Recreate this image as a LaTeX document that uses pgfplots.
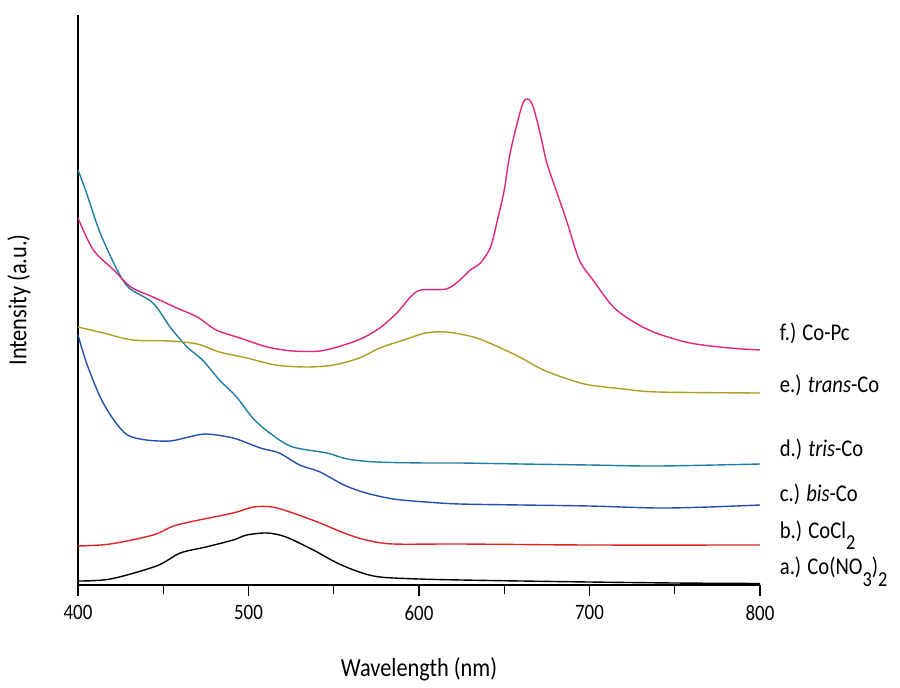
\documentclass[border=0pt]{standalone}
\usepackage{pgfplots}
\pgfplotsset{compat=1.18}
\usepackage{fontspec}
\setmainfont{Carlito}[FakeStretch=0.86]

\definecolor{cpink}{HTML}{E0267E}
\definecolor{colive}{HTML}{B09E22}
\definecolor{cteal}{HTML}{1C7FA4}
\definecolor{cblue}{HTML}{2250B0}
\definecolor{cred}{HTML}{E02424}

% lowered, nearly full-size index digits
\newcommand{\sub}[1]{\raisebox{-1.0ex}{\fontsize{16}{18}\selectfont#1}}

\begin{document}
\begin{tikzpicture}
\useasboundingbox (-58.5pt,-76.5pt) rectangle (616.5pt,438.75pt);
\begin{axis}[
  scale only axis,
  width=511.5pt, height=427.5pt,
  xmin=400, xmax=800, ymin=0, ymax=570,
  axis lines*=left,
  axis line style={line width=1.4pt},
  xtick={400,500,600,700,800},
  minor xtick={450,550,650,750},
  ytick=\empty,
  tick align=outside,
  major tick length=8pt, minor tick length=7pt,
  every tick/.style={line width=1pt, black},
  tick label style={font=\fontsize{16.5}{18}\selectfont},
  /pgf/number format/assume math mode=true,
  xticklabel style={yshift=-4pt},
  xlabel={Wavelength (nm)},
  ylabel={Intensity (a.u.)},
  label style={font=\fontsize{19.5}{22}\selectfont},
  xlabel style={at={(axis description cs:0.5,0)}, anchor=north, yshift=-51pt},
  ylabel style={at={(axis description cs:0,0.5)}, anchor=south, yshift=32pt},
  clip=false,
  every axis plot/.append style={line width=1.05pt, smooth, tension=0.5},
]
% a.) Co(NO3)2
\addplot[black] coordinates {
(400,4) (419,6) (446,19) (460,32) (475,38) (491,45) (499,50) (511,52) (522,48)
(538,35) (552,22) (565,13) (577,8) (600,6) (625,5) (660,4) (700,3) (750,2) (800,1.5)};
% b.) CoCl2
\addplot[cred] coordinates {
(400,39) (419,41) (444,50) (456,59) (471,65) (491,72) (503,78) (514,78) (526,72)
(542,62) (556,52) (569,45) (585,41) (624,41) (700,40) (800,40)};
% c.) bis-Co
\addplot[cblue] coordinates {
(400,250) (405,222) (413,188) (421,165) (429,150) (440,145) (454,144) (465,148)
(475,151) (491,147) (507,137) (518,132) (530,120) (542,113) (556,100) (569,92)
(585,86) (604,83) (624,81) (660,80) (700,79) (740,77) (770,78) (800,80)};
% d.) tris-Co
\addplot[cteal] coordinates {
(400,415) (405,392) (413,352) (423,315) (430,297) (444,282) (454,258) (464,238)
(473,225) (483,205) (493,188) (503,166) (514,150) (526,138) (546,132) (558,126)
(575,123) (604,122) (624,122) (660,121) (700,120) (740,119) (800,121)};
% e.) trans-Co
\addplot[colive] coordinates {
(400,258) (415,252) (432,245) (454,244) (470,241) (483,233) (499,227) (516,220)
(534,218) (550,220) (565,227) (577,237) (591,245) (604,252) (616,253) (632,248)
(644,240) (659,228) (673,215) (689,205) (700,200) (720,196) (740,193) (800,192)};
% f.) Co-Pc
\addplot[cpink] coordinates {
(400,367) (409,335) (421,315) (431,298) (444,288) (458,277) (470,268) (481,255)
(495,247) (511,238) (526,234) (542,234) (556,240) (567,247) (577,257) (587,272)
(595,288) (601,295) (616,296) (624,305) (630,315) (636,322) (642,338) (646,365)
(650,395) (653,428) (657,458) (661,482) (664,486) (667,478) (671,452) (675,422)
(681,392) (687,362) (694,325) (702,305) (714,278) (726,263) (739,252) (759,242)
(782,237) (800,235)};

\begin{scope}[every node/.style={anchor=west, font=\fontsize{18}{20}\selectfont, inner sep=0pt}]
\node at (axis cs:811.5,252) {f.) Co-Pc};
\node at (axis cs:811.5,200) {e.) \textit{trans}-Co};
\node at (axis cs:811.5,136) {d.) \textit{tris}-Co};
\node at (axis cs:811.5,91) {c.) \textit{bis}-Co};
\node at (axis cs:811.5,50) {b.) CoCl\sub{2}};
\node at (axis cs:811.5,13) {a.) Co(NO\sub{3})\sub{2}};
\end{scope}
\end{axis}
\end{tikzpicture}
\end{document}
